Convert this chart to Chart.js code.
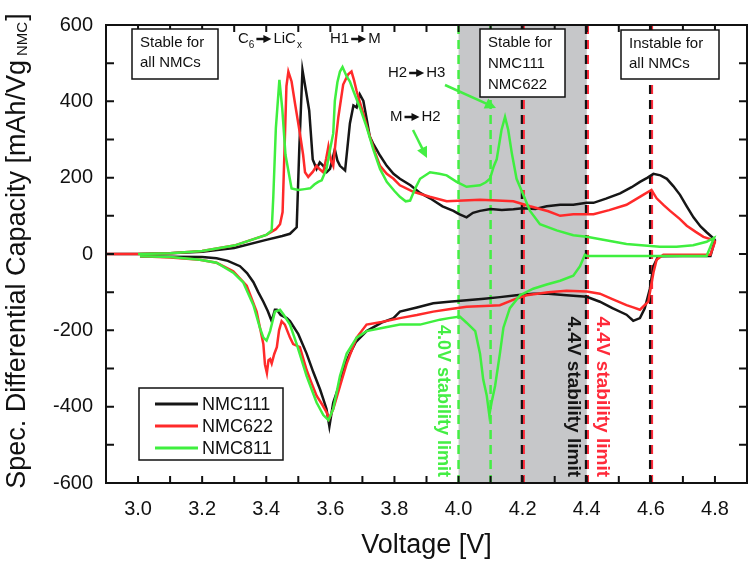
<!DOCTYPE html>
<html>
<head>
<meta charset="utf-8">
<script src="https://cdn.jsdelivr.net/npm/chart.js@4.4.1/dist/chart.umd.min.js"></script>
<style>
  body { margin: 0; background: #fff; }
</style>
</head>
<body>
<canvas id="dqdv" width="752" height="565"></canvas>
<script>
const FONT = '"Liberation Sans", Arial, sans-serif';

// NMC111 (black) - charge (upper) and discharge (lower) branch
const v111Up = [2.9, 3.0, 3.1, 3.2, 3.3, 3.4, 3.45, 3.474, 3.495, 3.503, 3.513, 3.524, 3.534, 3.545, 3.557, 3.567, 3.578, 3.589, 3.599, 3.607, 3.614, 3.622, 3.63, 3.646, 3.661, 3.672, 3.682, 3.692, 3.703, 3.713, 3.723, 3.733, 3.744, 3.755, 3.776, 3.797, 3.817, 3.85, 3.88, 3.911, 3.95, 3.984, 4.0, 4.025, 4.045, 4.067, 4.1, 4.135, 4.171, 4.2, 4.24, 4.275, 4.317, 4.358, 4.4, 4.421, 4.46, 4.504, 4.54, 4.566, 4.59, 4.608, 4.63, 4.65, 4.67, 4.691, 4.712, 4.733, 4.755, 4.774, 4.797];
const q111Up = [0, 0, 2, 6, 16, 37, 47, 53, 70, 274, 482, 427, 376, 248, 223, 240, 231, 215, 223, 250, 274, 245, 231, 219, 342, 389, 384, 418, 401, 355, 308, 290, 274, 258, 231, 210, 197, 180, 160, 146, 125, 113, 105, 96, 108, 113, 118, 115, 117, 120, 118, 125, 129, 129, 134, 134, 145, 159, 175, 189, 200, 210, 206, 197, 178, 155, 125, 96, 72, 57, 40];
const v111Down = [4.8, 4.786, 4.7, 4.623, 4.608, 4.597, 4.581, 4.566, 4.545, 4.524, 4.48, 4.441, 4.4, 4.337, 4.28, 4.233, 4.18, 4.129, 4.08, 4.025, 3.97, 3.921, 3.87, 3.817, 3.797, 3.76, 3.713, 3.68, 3.661, 3.64, 3.63, 3.609, 3.597, 3.588, 3.578, 3.568, 3.547, 3.526, 3.5, 3.474, 3.464, 3.445, 3.433, 3.427, 3.417, 3.405, 3.391, 3.375, 3.36, 3.34, 3.318, 3.28, 3.245, 3.2, 3.1, 3.006];
const q111Down = [36, -5, -5, -6, -32, -91, -142, -168, -175, -159, -142, -125, -112, -108, -104, -104, -108, -113, -117, -121, -125, -129, -140, -151, -168, -180, -202, -230, -261, -300, -338, -389, -452, -406, -380, -355, -310, -261, -210, -176, -168, -160, -146, -146, -176, -150, -125, -100, -74, -50, -32, -18, -11, -8, -7, -6];

// NMC622 (red)
const v622Up = [2.9, 3.0, 3.1, 3.2, 3.3, 3.4, 3.43, 3.443, 3.451, 3.458, 3.463, 3.469, 3.479, 3.49, 3.505, 3.515, 3.521, 3.531, 3.545, 3.557, 3.567, 3.578, 3.587, 3.594, 3.602, 3.609, 3.617, 3.625, 3.64, 3.655, 3.666, 3.674, 3.682, 3.703, 3.723, 3.74, 3.755, 3.776, 3.797, 3.817, 3.859, 3.91, 3.963, 4.015, 4.067, 4.12, 4.171, 4.223, 4.28, 4.317, 4.358, 4.421, 4.47, 4.524, 4.55, 4.576, 4.602, 4.618, 4.64, 4.66, 4.69, 4.712, 4.74, 4.764, 4.797];
const q622Up = [0, 0, 2, 8, 22, 50, 65, 78, 110, 300, 440, 478, 452, 393, 316, 260, 214, 202, 215, 231, 222, 214, 250, 282, 245, 231, 300, 359, 444, 470, 478, 455, 427, 367, 308, 265, 231, 210, 197, 180, 163, 150, 138, 140, 142, 140, 138, 125, 112, 100, 104, 104, 115, 129, 142, 155, 168, 146, 128, 113, 92, 74, 58, 45, 36];
const v622Down = [4.8, 4.786, 4.7, 4.639, 4.618, 4.608, 4.592, 4.566, 4.545, 4.524, 4.48, 4.441, 4.4, 4.337, 4.28, 4.212, 4.17, 4.129, 4.08, 4.025, 3.97, 3.921, 3.87, 3.817, 3.76, 3.713, 3.682, 3.651, 3.63, 3.609, 3.596, 3.588, 3.575, 3.557, 3.54, 3.526, 3.505, 3.484, 3.474, 3.458, 3.448, 3.44, 3.433, 3.425, 3.417, 3.412, 3.407, 3.402, 3.396, 3.391, 3.37, 3.339, 3.297, 3.245, 3.193, 3.1, 3.006];
const q622Down = [32, -2, -2, -2, -15, -49, -125, -146, -140, -134, -118, -104, -98, -96, -100, -108, -120, -134, -136, -138, -145, -151, -160, -168, -178, -185, -219, -287, -346, -406, -432, -414, -395, -371, -335, -304, -244, -236, -219, -185, -176, -200, -244, -262, -287, -275, -278, -312, -290, -236, -151, -83, -45, -23, -15, -9, -6];

// NMC811 (green)
const v811Up = [3.0, 3.1, 3.2, 3.3, 3.4, 3.417, 3.422, 3.43, 3.441, 3.45, 3.46, 3.479, 3.5, 3.52, 3.537, 3.55, 3.562, 3.573, 3.588, 3.599, 3.609, 3.614, 3.622, 3.63, 3.638, 3.651, 3.661, 3.672, 3.692, 3.713, 3.734, 3.755, 3.776, 3.8, 3.817, 3.835, 3.849, 3.865, 3.88, 3.911, 3.94, 3.963, 3.994, 4.025, 4.067, 4.085, 4.098, 4.11, 4.119, 4.134, 4.145, 4.155, 4.166, 4.181, 4.202, 4.223, 4.254, 4.306, 4.358, 4.4, 4.46, 4.524, 4.58, 4.628, 4.68, 4.732, 4.774, 4.797];
const q811Up = [0, 2, 8, 22, 50, 62, 150, 330, 456, 380, 260, 172, 168, 170, 172, 182, 189, 193, 223, 274, 316, 401, 450, 478, 490, 465, 452, 427, 384, 333, 274, 223, 189, 165, 150, 138, 140, 172, 197, 214, 210, 206, 189, 176, 180, 188, 197, 230, 248, 325, 359, 325, 265, 197, 155, 113, 78, 62, 49, 45, 36, 26, 22, 19, 19, 23, 32, 42];
const v811Down = [4.797, 4.774, 4.6, 4.4, 4.394, 4.379, 4.358, 4.317, 4.275, 4.233, 4.192, 4.16, 4.14, 4.129, 4.114, 4.103, 4.096, 4.088, 4.077, 4.067, 4.052, 4.025, 4.004, 3.97, 3.942, 3.88, 3.817, 3.765, 3.713, 3.682, 3.651, 3.63, 3.609, 3.594, 3.578, 3.557, 3.526, 3.495, 3.474, 3.455, 3.443, 3.427, 3.412, 3.401, 3.391, 3.38, 3.36, 3.328, 3.297, 3.245, 3.193, 3.1, 3.006];
const q811Down = [42, -5, -5, -5, -2, -32, -57, -70, -80, -91, -108, -142, -193, -261, -346, -389, -422, -371, -329, -261, -202, -180, -164, -168, -172, -185, -185, -193, -202, -219, -261, -320, -406, -435, -422, -389, -320, -236, -185, -160, -146, -151, -202, -227, -219, -193, -134, -74, -49, -23, -15, -8, -6];

const seriesNames = ['NMC111', 'NMC622', 'NMC811'];
const seriesColors = ['#161616', '#ff2a2a', '#3fef3f'];

// stability limits / shaded window
const greenLimits = [4.0, 4.1];
const blackRedLimits = [4.2, 4.4, 4.6];
const shadedWindow = [4.0, 4.4];

const xMin = 2.9, xMax = 4.9;
const yMin = -600, yMax = 600;

function toPoints(vs, qs) { return vs.map((v, i) => ({ x: v, y: qs[i] })); }

const loops = [
  toPoints(v111Up.concat(v111Down), q111Up.concat(q111Down)),
  toPoints(v622Up.concat(v622Down), q622Up.concat(q622Down)),
  toPoints(v811Up.concat(v811Down), q811Up.concat(q811Down))
];

function arrow(ctx, x1, y1, x2, y2, color, lw, head) {
  const a = Math.atan2(y2 - y1, x2 - x1);
  ctx.strokeStyle = color;
  ctx.fillStyle = color;
  ctx.lineWidth = lw;
  ctx.beginPath();
  ctx.moveTo(x1, y1);
  ctx.lineTo(x2 - head * 0.8 * Math.cos(a), y2 - head * 0.8 * Math.sin(a));
  ctx.stroke();
  ctx.beginPath();
  ctx.moveTo(x2, y2);
  ctx.lineTo(x2 - head * Math.cos(a) + head * 0.5 * Math.sin(a), y2 - head * Math.sin(a) - head * 0.5 * Math.cos(a));
  ctx.lineTo(x2 - head * Math.cos(a) - head * 0.5 * Math.sin(a), y2 - head * Math.sin(a) + head * 0.5 * Math.cos(a));
  ctx.closePath();
  ctx.fill();
}

function textBox(ctx, x, y, w, h, lines, lineGap) {
  ctx.fillStyle = '#fff';
  ctx.fillRect(x, y, w, h);
  ctx.strokeStyle = '#111';
  ctx.lineWidth = 1.5;
  ctx.strokeRect(x, y, w, h);
  ctx.fillStyle = '#111';
  ctx.font = '15px ' + FONT;
  ctx.textAlign = 'left';
  ctx.textBaseline = 'middle';
  lines.forEach((t, i) => ctx.fillText(t, x + 8, y + 14 + i * lineGap));
}

// "A -> B" labels with a solid arrow between parts, optional subscripts
function transition(ctx, x, y, left, leftSub, right, rightSub) {
  ctx.fillStyle = '#111';
  ctx.textAlign = 'left';
  ctx.textBaseline = 'middle';
  ctx.font = '15px ' + FONT;
  ctx.fillText(left, x, y);
  let cx = x + ctx.measureText(left).width;
  if (leftSub) {
    ctx.font = '10px ' + FONT;
    ctx.fillText(leftSub, cx, y + 6);
    cx += ctx.measureText(leftSub).width;
  }
  arrow(ctx, cx + 2, y, cx + 17, y, '#111', 2.5, 8);
  cx += 19;
  ctx.font = '15px ' + FONT;
  ctx.fillStyle = '#111';
  ctx.fillText(right, cx, y);
  if (rightSub) {
    const w = ctx.measureText(right).width;
    ctx.font = '10px ' + FONT;
    ctx.fillText(rightSub, cx + w + 1, y + 6);
  }
}

function vText(ctx, text, x, yEnd, color, size) {
  ctx.save();
  ctx.translate(x, yEnd);
  ctx.rotate(Math.PI / 2);
  ctx.font = 'bold ' + size + 'px ' + FONT;
  ctx.fillStyle = color;
  ctx.textAlign = 'right';
  ctx.textBaseline = 'middle';
  ctx.fillText(text, 0, 0);
  ctx.restore();
}

const decor = {
  id: 'decor',
  beforeDatasetsDraw(chart) {
    const { ctx, chartArea: a, scales: { x } } = chart;
    ctx.save();
    // shaded stability window
    const s0 = x.getPixelForValue(shadedWindow[0]);
    const s1 = x.getPixelForValue(shadedWindow[1]);
    ctx.fillStyle = '#c6c7c9';
    ctx.fillRect(s0, a.top, s1 - s0, a.bottom - a.top);
    ctx.setLineDash([9, 6]);
    greenLimits.forEach(v => {
      const px = x.getPixelForValue(v);
      ctx.strokeStyle = '#44ee44';
      ctx.lineWidth = 2.5;
      ctx.beginPath(); ctx.moveTo(px, a.top); ctx.lineTo(px, a.bottom); ctx.stroke();
    });
    blackRedLimits.forEach(v => {
      const px = x.getPixelForValue(v);
      ctx.strokeStyle = '#ff2a3a';
      ctx.lineWidth = 2.5;
      ctx.beginPath(); ctx.moveTo(px + 1, a.top); ctx.lineTo(px + 1, a.bottom); ctx.stroke();
      ctx.strokeStyle = '#111';
      ctx.lineWidth = 2.2;
      ctx.beginPath(); ctx.moveTo(px - 0.8, a.top); ctx.lineTo(px - 0.8, a.bottom); ctx.stroke();
    });
    ctx.restore();
  },
  afterDatasetsDraw(chart) {
    const { ctx, chartArea: a, scales: { x, y } } = chart;
    ctx.save();
    // frame and inward ticks on all four sides
    ctx.strokeStyle = '#111';
    ctx.lineWidth = 2;
    ctx.strokeRect(a.left, a.top, a.right - a.left, a.bottom - a.top);
    ctx.beginPath();
    x.ticks.forEach(t => {
      const px = x.getPixelForValue(t.value);
      ctx.moveTo(px, a.bottom); ctx.lineTo(px, a.bottom - 7);
      ctx.moveTo(px, a.top); ctx.lineTo(px, a.top + 7);
    });
    y.ticks.forEach(t => {
      const py = y.getPixelForValue(t.value);
      ctx.moveTo(a.left, py); ctx.lineTo(a.left + 8, py);
      ctx.moveTo(a.right, py); ctx.lineTo(a.right - 8, py);
    });
    ctx.stroke();

    // annotation boxes
    textBox(ctx, 132, 29, 86, 50, ['Stable for', 'all NMCs'], 20);
    textBox(ctx, 480, 29, 85, 68, ['Stable for', 'NMC111', 'NMC622'], 21);
    textBox(ctx, 621, 30, 98, 49, ['Instable for', 'all NMCs'], 20);

    // phase transition labels
    transition(ctx, 238, 39, 'C', '6', 'LiC', 'x');
    transition(ctx, 330, 39, 'H1', '', 'M', '');
    transition(ctx, 388, 73, 'H2', '', 'H3', '');
    transition(ctx, 390, 117, 'M', '', 'H2', '');
    arrow(ctx, 445, 85, 496, 108, '#44ee44', 2.5, 11);
    arrow(ctx, 413, 130, 427, 158, '#44ee44', 2.5, 11);

    // vertical limit labels
    vText(ctx, '4.0V stability limit', 443, 477, '#44ee44', 18);
    vText(ctx, '4.4V stability limit', 573, 477, '#151515', 19);
    vText(ctx, '4.4V stability limit', 602, 477, '#ff2a3a', 19);

    // legend
    ctx.fillStyle = '#fff';
    ctx.fillRect(139, 388, 144, 72);
    ctx.strokeStyle = '#111';
    ctx.lineWidth = 1.5;
    ctx.strokeRect(139, 388, 144, 72);
    seriesNames.forEach((n, i) => {
      const ly = 404 + i * 22;
      ctx.strokeStyle = seriesColors[i];
      ctx.lineWidth = 3;
      ctx.beginPath(); ctx.moveTo(155, ly); ctx.lineTo(198, ly); ctx.stroke();
      ctx.fillStyle = '#111';
      ctx.font = '18px ' + FONT;
      ctx.textAlign = 'left';
      ctx.textBaseline = 'middle';
      ctx.fillText(n, 202, ly + 1);
    });

    // y axis title with subscript
    ctx.translate(25, 251);
    ctx.rotate(-Math.PI / 2);
    ctx.fillStyle = '#111';
    ctx.textBaseline = 'alphabetic';
    ctx.textAlign = 'left';
    const main = 'Spec. Differential Capacity [mAh/Vg';
    ctx.font = '27px ' + FONT;
    const w1 = ctx.measureText(main).width;
    ctx.font = '15px ' + FONT;
    const w2 = ctx.measureText('NMC').width;
    ctx.font = '27px ' + FONT;
    const w3 = ctx.measureText(']').width;
    const start = -(w1 + 5 + w2 + w3) / 2;
    ctx.fillText(main, start, 0);
    ctx.fillText(']', start + w1 + 5 + w2, 0);
    ctx.font = '15px ' + FONT;
    ctx.fillText('NMC', start + w1 + 4, 2);
    ctx.restore();
  }
};

new Chart(document.getElementById('dqdv'), {
  type: 'line',
  data: {
    datasets: loops.map((pts, i) => ({
      label: seriesNames[i],
      data: pts,
      borderColor: seriesColors[i],
      borderWidth: 2.5,
      pointRadius: 0,
      tension: 0,
      fill: false,
      order: 3 - i
    }))
  },
  options: {
    responsive: false,
    animation: false,
    devicePixelRatio: 1,
    layout: { padding: { top: 12, right: 5, left: 0, bottom: 0 } },
    plugins: { legend: { display: false }, tooltip: { enabled: false } },
    scales: {
      x: {
        type: 'linear',
        min: xMin, max: xMax,
        grid: { display: false, drawTicks: false },
        border: { display: false },
        ticks: {
          stepSize: 0.1,
          autoSkip: false,
          maxRotation: 0, minRotation: 0,
          padding: 14,
          color: '#111',
          font: { size: 20, family: FONT },
          callback: v => {
            const k = Math.round(v * 10);
            return (k % 2 === 0 && k >= 30 && k <= 48) ? (k / 10).toFixed(1) : '';
          }
        },
        title: { display: true, text: 'Voltage [V]', color: '#111', font: { size: 27, family: FONT }, padding: { top: 0, bottom: 3 } },
        afterFit: s => { s.height = 82; s.paddingLeft = 0; s.paddingRight = 0; }
      },
      y: {
        type: 'linear',
        min: yMin, max: yMax,
        grid: { display: false, drawTicks: false },
        border: { display: false },
        ticks: {
          stepSize: 100,
          autoSkip: false,
          padding: 13,
          color: '#111',
          font: { size: 20, family: FONT },
          callback: v => (Math.round(v) % 200 === 0 ? String(Math.round(v)) : '')
        },
        afterFit: s => { s.width = 106; }
      }
    }
  },
  plugins: [decor]
});
</script>
</body>
</html>
